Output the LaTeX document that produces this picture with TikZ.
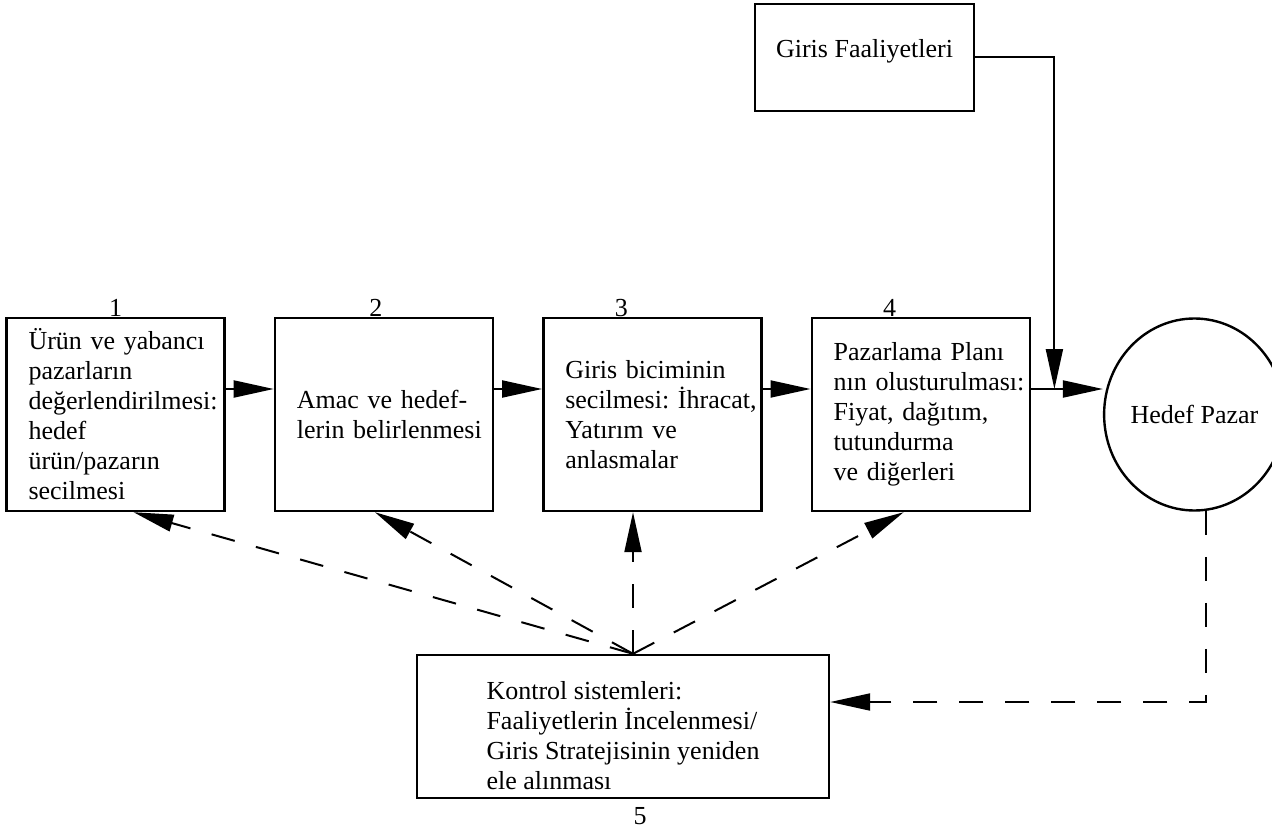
\documentclass[tikz,border=0pt]{standalone}
\usepackage{fontspec}
\setmainfont{Liberation Serif}
\usetikzlibrary{arrows.meta,positioning,shapes.geometric}

\begin{document}
\begin{tikzpicture}[
  x=0.5pt, y=-0.5pt,
  every node/.style={font=\fontsize{13pt}{15pt}\selectfont\frenchspacing},
  block/.style={draw, line width=1.2pt, minimum height=96.5pt,
                text width=87pt, inner xsep=11pt, align=left},
  entry/.style={draw, line width=1.2pt, minimum width=109.5pt,
                minimum height=53.5pt, text depth=9pt},
  ctrlbox/.style={draw, line width=1.2pt, minimum width=206pt,
                  minimum height=71.5pt, align=left},
  market/.style={ellipse, draw, line width=1.2pt, minimum width=85pt,
                 minimum height=96pt, inner sep=0pt},
  numlbl/.style={inner sep=0pt},
  arr/.style={-{Triangle[length=20pt, width=8.5pt]}, line width=1pt},
  darr/.style={arr, dash pattern=on 12pt off 11pt},
  node distance=24pt
]
  \useasboundingbox (0,0) rectangle (1272,828);

  % main row of steps
  \node[block] (b1) at (115.5,414.5) {\mbox{Ürün ve yabancı}\\pazarların\\\mbox{değerlendirilmesi:}\\hedef\\ürün/pazarın\\secilmesi};
  \node[block, right=of b1] (b2) {Amac ve hedef-\\\mbox{lerin belirlenmesi}};
  \node[block, right=of b2] (b3) {Giris biciminin\\\mbox{secilmesi: İhracat,}\\Yatırım ve\\anlasmalar};
  \node[block, right=of b3] (b4) {Pazarlama Planı\\\mbox{nın olusturulması:}\\Fiyat, dağıtım,\\tutundurma\\ve diğerleri};
  \node[market, right=36pt of b4] (hedef) {Hedef Pazar};
  \node[entry] (gf) at (864.5,57.5) {Giris Faaliyetleri};
  \node[ctrlbox] (ctrl) at (623,726.5) {\rule{0pt}{18pt}Kontrol sistemleri:\\Faaliyetlerin İncelenmesi/\\Giris Stratejisinin yeniden\\ele alınması};

  % step numbers
  \node[numlbl, above=0pt of b1] (n1) {1};
  \node[numlbl, above=0pt of b2, xshift=-4pt] (n2) {2};
  \node[numlbl, above=0pt of b3, xshift=-15.5pt] (n3) {3};
  \node[numlbl, above=0pt of b4, xshift=-15.5pt] (n4) {4};
  \node[numlbl, below=4pt of ctrl, xshift=8.5pt] (n5) {5};

  % flow
  \coordinate (flow4) at ([yshift=12.75pt]b4.east);
  \coordinate (merge) at ([xshift=11.75pt]flow4);
  \draw[arr] ([yshift=12.75pt]b1.east) -- ([yshift=12.75pt]b2.west);
  \draw[arr] ([yshift=12.75pt]b2.east) -- ([yshift=12.75pt]b3.west);
  \draw[arr] ([yshift=12.75pt]b3.east) -- ([yshift=12.75pt]b4.west);
  \draw[arr] (flow4) -- (flow4 -| hedef.west);
  \draw[arr] (gf.east) -| (merge);

  % feedback
  \coordinate (hub) at ([xshift=5pt]ctrl.north);
  \draw[darr] (hub) -- ([xshift=9pt]b1.south);
  \draw[darr] (hub) -- ([xshift=-4.5pt]b2.south);
  \draw[darr] (hub) -- (hub |- b3.south);
  \draw[darr] (hub) -- ([xshift=-8.5pt]b4.south);
  \draw[darr] (hedef.-83) |- ([yshift=12.25pt]ctrl.east);
\end{tikzpicture}
\end{document}
